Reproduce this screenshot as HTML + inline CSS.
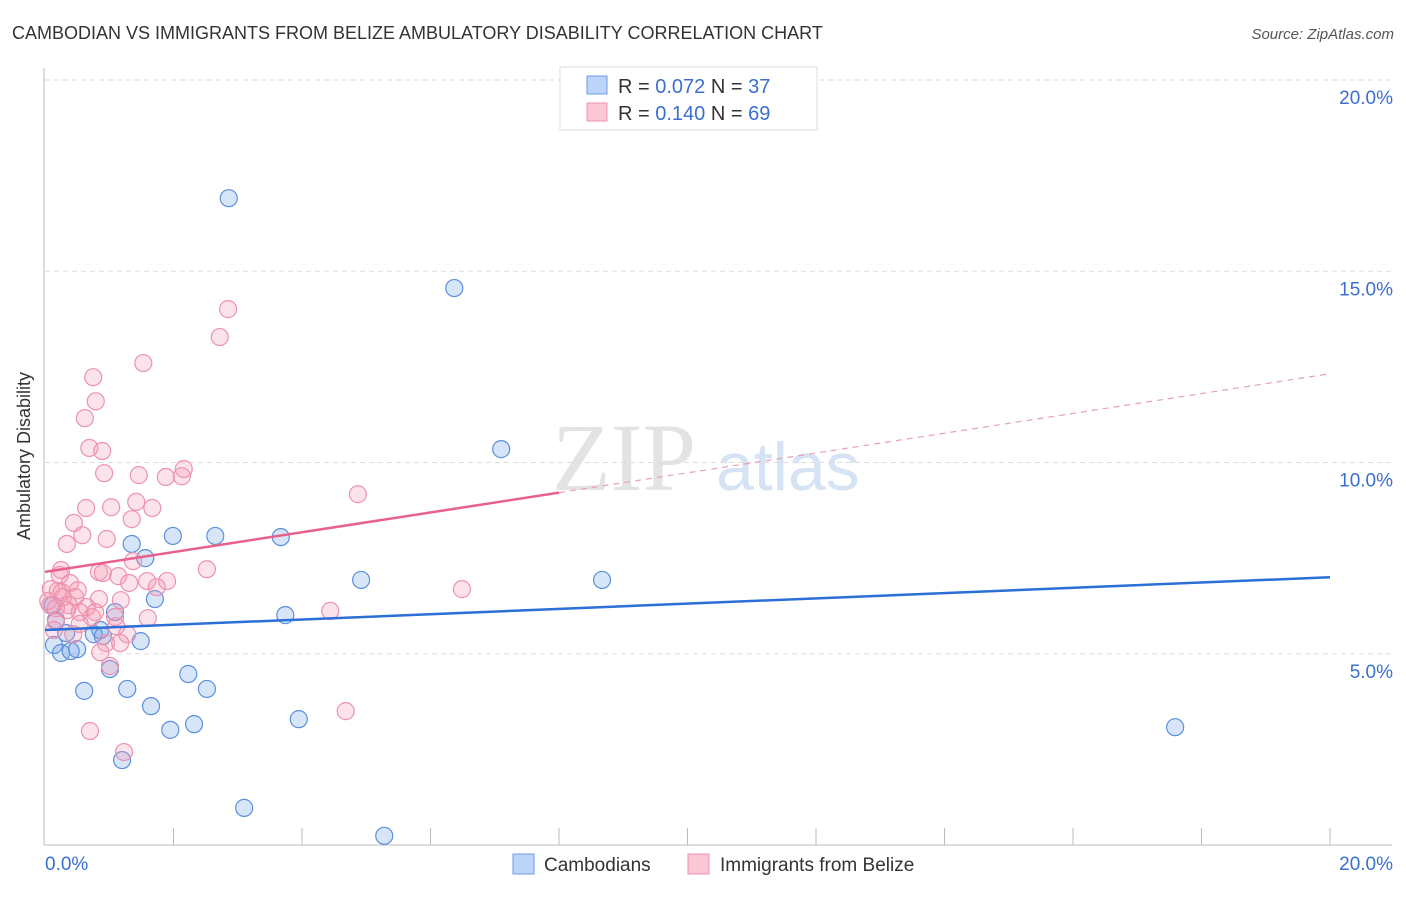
<!DOCTYPE html>
<html><head><meta charset="utf-8"><style>
body{margin:0;background:#fff;font-family:"Liberation Sans",sans-serif}
</style></head><body>
<svg id="c" width="1406" height="892" xmlns="http://www.w3.org/2000/svg" style="font-family:'Liberation Sans',sans-serif">
<text x="12" y="39" font-size="18" fill="#333">CAMBODIAN VS IMMIGRANTS FROM BELIZE AMBULATORY DISABILITY CORRELATION CHART</text>
<text x="1394" y="39" font-size="15" fill="#555" font-style="italic" text-anchor="end">Source: ZipAtlas.com</text>
<g>
<text x="552" y="490" font-size="96" font-family="'Liberation Serif',serif" fill="#e3e3e3">ZIP</text>
<text x="716" y="490" font-size="68" fill="#d6e3f5">atlas</text>
</g>
<g id="grid"></g>
<g id="axes"></g>
<g id="marks"></g>
<text x="30" y="456" font-size="18" fill="#333" transform="rotate(-90 30 456)" text-anchor="middle">Ambulatory Disability</text>
<g>
<rect x="560" y="67" width="257" height="63" fill="#fff" stroke="#ddd"/>
<rect x="587" y="76" width="20" height="18" fill="#bcd4f7" stroke="#6b9be0"/>
<rect x="587" y="103" width="20" height="18" fill="#fcc7d5" stroke="#ec92ad"/>
<text x="618" y="93" font-size="20" fill="#333">R = <tspan fill="#3a6fd0">0.072</tspan>   N = <tspan fill="#3a6fd0">37</tspan></text>
<text x="618" y="120" font-size="20" fill="#333">R = <tspan fill="#3a6fd0"> 0.140</tspan>   N = <tspan fill="#3a6fd0">69</tspan></text>
</g>
<g>
<rect x="513" y="854" width="21" height="20" fill="#bcd4f7" stroke="#6b9be0"/>
<text x="544" y="871" font-size="19" fill="#333">Cambodians</text>
<rect x="688" y="854" width="21" height="20" fill="#fcc7d5" stroke="#ec92ad"/>
<text x="720" y="871" font-size="19" fill="#333">Immigrants from Belize</text>
</g>
</svg>
<script>
const blueX=[2.86,6.37,7.10,1.35,1.56,1.99,2.65,3.67,4.92,8.67,1.71,1.09,3.74,0.86,0.33,0.76,0.90,1.49,0.14,0.25,0.40,0.50,1.01,2.23,0.61,1.28,2.52,1.65,1.95,2.32,3.95,1.20,3.10,5.28,17.59,0.17,0.12];
const blueY=[16.91,14.56,10.35,7.87,7.50,8.08,8.08,8.05,6.93,6.93,6.43,6.09,6.01,5.62,5.54,5.51,5.46,5.33,5.23,5.02,5.07,5.12,4.60,4.47,4.03,4.08,4.08,3.63,3.01,3.16,3.29,2.22,0.97,0.24,3.08,5.88,6.27];
const pinkX=[2.85,2.72,1.53,0.75,0.79,0.62,0.69,0.89,0.92,1.46,1.88,2.13,2.16,4.87,1.42,1.03,0.64,1.67,1.35,0.45,0.58,0.96,0.34,1.37,2.52,0.84,0.90,0.25,1.14,1.59,1.90,1.31,0.39,6.49,0.09,0.20,1.74,0.28,0.05,0.47,0.84,0.08,0.17,0.37,0.65,0.54,0.34,4.44,1.09,0.73,1.60,0.17,1.11,0.54,1.28,0.44,0.95,1.17,0.86,1.01,4.68,0.70,1.23,0.26,0.14,0.51,0.78,0.23,1.18];
const pinkY=[14.01,13.28,12.60,12.23,11.60,11.16,10.38,10.30,9.72,9.67,9.62,9.64,9.83,9.17,8.97,8.83,8.81,8.81,8.52,8.42,8.10,8.00,7.87,7.42,7.21,7.14,7.11,7.19,7.03,6.90,6.90,6.85,6.85,6.69,6.69,6.64,6.74,6.48,6.38,6.48,6.43,6.27,6.19,6.27,6.22,6.09,6.14,6.12,5.96,5.96,5.93,5.83,5.72,5.78,5.51,5.51,5.28,5.28,5.04,4.68,3.50,2.98,2.43,6.61,5.62,6.66,6.09,7.06,6.40];
const blueTrend=[5.62,7.00];
const pinkTrend=[7.14,12.32];
const yTicks=[5,10,15,20];
const xTickLabels=["0.0%","20.0%"];
const X=v=>45+v/20*1285, Y=v=>845-v/20*765;
const NS="http://www.w3.org/2000/svg";
function mk(parent,tag,attrs){const e=document.createElementNS(NS,tag);for(const k in attrs)e.setAttribute(k,attrs[k]);document.getElementById(parent).appendChild(e);return e;}
yTicks.forEach(t=>{
 const l=mk('grid','line',{x1:45,x2:1392,y1:Y(t),y2:Y(t),stroke:'#ddd','stroke-dasharray':'5,4'});
 
 
 const tx=mk('grid','text',{x:1393,y:Y(t)+24,'font-size':19,fill:'#3a6fd0','text-anchor':'end'});
 tx.textContent=t.toFixed(1)+'%';
 
 
});
let a=mk('axes','line',{x1:44,x2:44,y1:68,y2:845,stroke:'#bbb'});


a=mk('axes','line',{x1:44,x2:1392,y1:845,y2:845,stroke:'#bbb'});


for(let i=1;i<=10;i++){const t=mk('axes','line',{x1:X(i*2),x2:X(i*2),y1:828,y2:845,stroke:'#bbb'});
 
 }
let xl=mk('axes','text',{x:45,y:870,'font-size':19,fill:'#3a6fd0'});xl.textContent=xTickLabels[0];


xl=mk('axes','text',{x:1393,y:870,'font-size':19,fill:'#3a6fd0','text-anchor':'end'});xl.textContent=xTickLabels[1];


blueX.forEach((v,i)=>{const c=mk('marks','circle',{cx:X(v),cy:Y(blueY[i]),r:8.5,fill:'rgba(110,160,235,0.28)',stroke:'#5b8fdc','stroke-width':1.2});
 
 });
pinkX.forEach((v,i)=>{const c=mk('marks','circle',{cx:X(v),cy:Y(pinkY[i]),r:8.5,fill:'rgba(245,150,180,0.28)',stroke:'#ec92ad','stroke-width':1.2});
 
 });
let tl=mk('marks','line',{x1:X(0),y1:Y(blueTrend[0]),x2:X(20),y2:Y(blueTrend[1]),stroke:'#2c6fd6','stroke-width':2.5});


const pAt=v=>pinkTrend[0]+(pinkTrend[1]-pinkTrend[0])*v/20;
tl=mk('marks','line',{x1:X(0),y1:Y(pAt(0)),x2:X(8),y2:Y(pAt(8)),stroke:'#e8608c','stroke-width':2.5});


tl=mk('marks','line',{x1:X(8),y1:Y(pAt(8)),x2:X(20),y2:Y(pAt(20)),stroke:'#e8a0b8','stroke-width':1.2,'stroke-dasharray':'6,5'});


</script>
</body></html>
